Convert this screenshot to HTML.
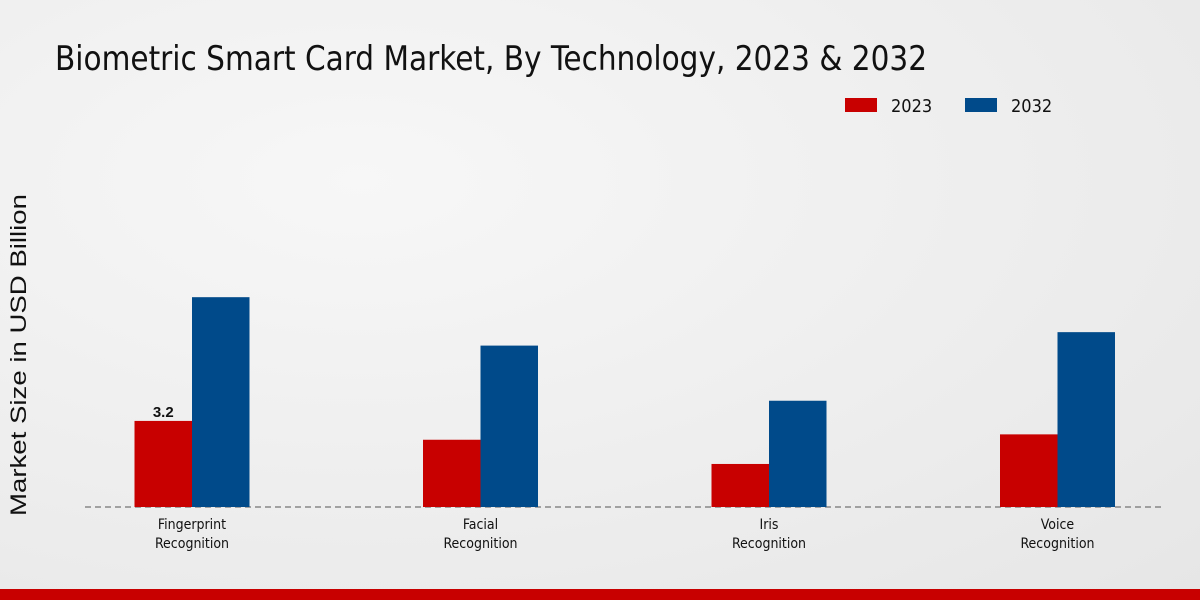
<!DOCTYPE html>
<html><head><meta charset="utf-8"><style>
body{margin:0;width:1200px;height:600px;overflow:hidden;font-family:"Liberation Sans",sans-serif;}
#bg{position:absolute;left:0;top:0;width:1200px;height:600px;background:radial-gradient(ellipse at 30% 30%,#f7f7f7 0%,#e6e6e6 100%);}
.cond{font-family:"DejaVu Sans Condensed","Liberation Sans",sans-serif;}
</style></head><body>
<div id="bg"></div>
<svg id="c" width="1200" height="600" style="position:absolute;left:0;top:0">
<text x="55" y="70" font-size="34" fill="#111" font-family="'DejaVu Sans Condensed','Liberation Sans',sans-serif" textLength="872" lengthAdjust="spacingAndGlyphs">Biometric Smart Card Market, By Technology, 2023 &amp; 2032</text>
<g class="cond">
<rect x="845" y="98" width="32" height="14" fill="#c80000"/>
<text x="891" y="112" font-size="18" fill="#111">2023</text>
<rect x="965" y="98" width="32" height="14" fill="#004a8a"/>
<text x="1011" y="112" font-size="18" fill="#111">2032</text>
</g>
<text transform="translate(26,355) rotate(-90)" text-anchor="middle" font-size="22" fill="#111" textLength="322" lengthAdjust="spacingAndGlyphs">Market Size in USD Billion</text>
<line x1="85" y1="507" x2="1165" y2="507" stroke="#555" stroke-dasharray="6,4"/>
<g id="bars"></g>
<rect x="0" y="589" width="1200" height="11" fill="#c80000"/>
</svg>
<script>
const categories=["Fingerprint|Recognition","Facial|Recognition","Iris|Recognition","Voice|Recognition"];
const values2023=[3.2,2.5,1.6,2.7];
const values2032=[7.8,6.0,3.95,6.5];
const labels2023=["3.2","","",""];
const base=507,scale=26.9,x0=192,step=288.5,bw=57.5;
const y=v=>base-v*scale;
const xc=i=>x0+i*step;
const ns="http://www.w3.org/2000/svg";
const g=document.getElementById('bars');
function mk(t,a){const e=document.createElementNS(ns,t);for(const k in a)e.setAttribute(k,a[k]);g.appendChild(e);return e;}
categories.forEach((c,i)=>{
 let r=mk('rect',{x:xc(i)-bw,y:y(values2023[i]),width:bw,height:values2023[i]*scale,fill:'#c80000'});
 
 
 r=mk('rect',{x:xc(i),y:y(values2032[i]),width:bw,height:values2032[i]*scale,fill:'#004a8a'});
 
 
 if(labels2023[i]){let t=mk('text',{x:xc(i)-bw/2,y:y(values2023[i])-4,'text-anchor':'middle','font-size':15,'font-weight':'bold',fill:'#111'});t.textContent=labels2023[i];
 
 }
 c.split('|').forEach((p,j)=>{let t=mk('text',{x:xc(i),y:529+j*19,'text-anchor':'middle','font-size':14,fill:'#111',class:'cond'});t.textContent=p;
 
 });
});
</script>
</body></html>
